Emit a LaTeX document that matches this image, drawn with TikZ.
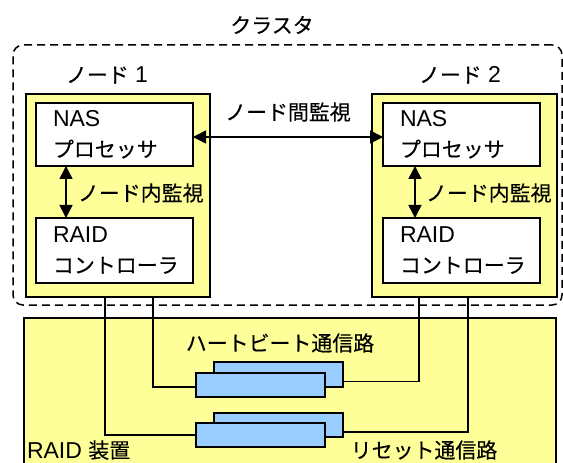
\documentclass[tikz,border=0pt]{standalone}
\usepackage{fontspec}
\setmainfont{Liberation Sans}
\newfontfamily\jp{Noto Sans CJK JP}[Scale=0.91,FakeBold=0.3]
\usetikzlibrary{arrows.meta}
\definecolor{yel}{HTML}{FFFF99}
\definecolor{blu}{HTML}{99CCFF}
\begin{document}
\begin{tikzpicture}[x=1bp,y=-1bp,line width=1.6bp,
  every node/.style={inner sep=0pt,outer sep=0pt,font=\fontsize{23bp}{30bp}\selectfont},
  box/.style={draw,anchor=north west,minimum width=#1},
  ybox/.style={box=#1,fill=yel},
  wbox/.style={box=#1,fill=white},
  bbox/.style={box=129bp,fill=blu},
  txt/.style={anchor=base west},
  arr/.style={{Triangle[length=13bp,width=13bp]}-{Triangle[length=13bp,width=13bp]}},
  clusterbox/.style={draw,anchor=north west,dash pattern=on 8bp off 5bp,line width=1.5bp,rounded corners=10bp}]
\useasboundingbox (0,0) rectangle (563,463);
% cluster
\node[clusterbox,minimum width=549bp,minimum height=260bp] (cl) at (13,45) {};
\node (lcl) at (272,25) {\jp クラスタ};
% node boxes
\node[ybox=184bp,minimum height=203bp] (n1) at (26,94) {};
\node[ybox=185bp,minimum height=203bp] (n2) at (372,94) {};
\node[wbox=157bp,minimum height=63bp] (nas1) at (36,103) {};
\node[wbox=157bp,minimum height=65bp] (raid1) at (36,218) {};
\node[wbox=157bp,minimum height=63bp] (nas2) at (383,103) {};
\node[wbox=157bp,minimum height=65bp] (raid2) at (383,218) {};
\node (ln1) at (107,75) {{\jp ノード} 1};
\node (ln2) at (460,75) {{\jp ノード} 2};
% texts inside
\node[txt] (tn1) at (53,127) {NAS};
\node[txt] (tp1) at (53,157) {\jp プロセッサ};
\node[txt] (tr1) at (53,243) {RAID};
\node[txt] (tc1) at (53,273) {\jp コントローラ};
\node[txt] (tn2) at (400,127) {NAS};
\node[txt] (tp2) at (400,157) {\jp プロセッサ};
\node[txt] (tr2) at (400,243) {RAID};
\node[txt] (tc2) at (400,273) {\jp コントローラ};
% monitoring arrows
\draw[arr] ([yshift=-2.5bp]nas1.east) -- ([yshift=-2.5bp]nas2.west);
\node (lbetween) at (288,112) {\jp ノード間監視};
\coordinate (a1) at (66,0);
\coordinate (a2) at (415,0);
\draw[arr] (nas1.south -| a1) -- (raid1.north -| a1);
\draw[arr] (nas2.south -| a2) -- (raid2.north -| a2);
\node[anchor=west] (lin1) at (78,193) {\jp ノード内監視};
\node[anchor=west] (lin2) at (426,193) {\jp ノード内監視};
% RAID device
\node[ybox=532bp,minimum height=170bp] (dev) at (24,318) {};
\node[txt] (ldev) at (27,458) {RAID {\jp 装置}};
\node[bbox,minimum height=25bp] (b1) at (214,362) {};
\node[bbox,minimum height=24bp] (f1) at (196,373) {};
\node[bbox,minimum height=24bp] (b2) at (214,413) {};
\node[bbox,minimum height=24bp] (f2) at (196,423) {};
\node (lhb) at (280,343) {\jp ハートビート通信路};
\node (lrs) at (424,450) {\jp リセット通信路};
% wires
\coordinate (w1) at (105,0);
\coordinate (w2) at (153,0);
\coordinate (w3) at (419,0);
\coordinate (w4) at (468,0);
\draw (n1.south -| w2) |- ([yshift=-2bp]f1.west);
\draw (n1.south -| w1) |- (f2.west);
\draw ([yshift=-7bp]b1.east) -| (n2.south -| w3);
\draw ([yshift=-7bp]b2.east) -| (n2.south -| w4);
\end{tikzpicture}
\end{document}
